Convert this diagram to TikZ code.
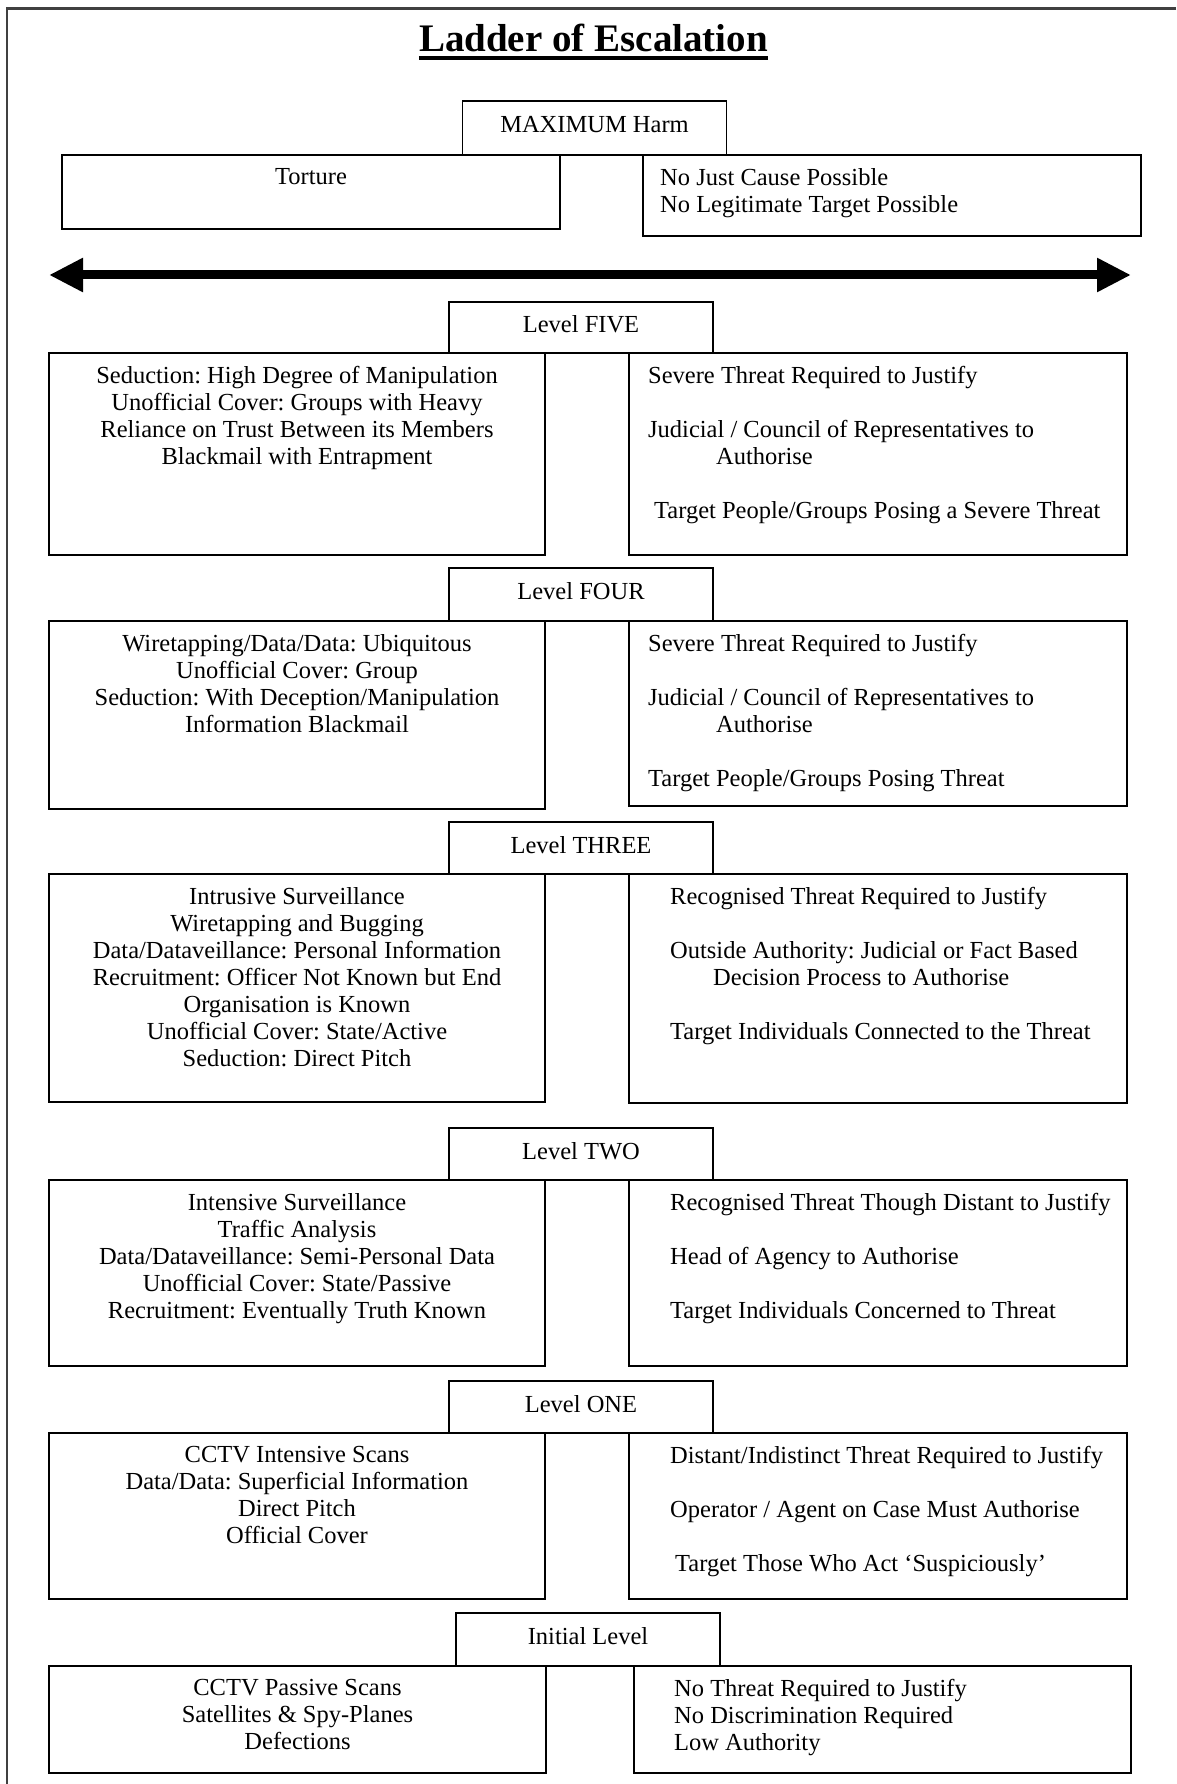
\documentclass[tikz,border=0pt]{standalone}
\usepackage{fontspec}
\setmainfont{Liberation Serif}
\usetikzlibrary{arrows.meta,positioning}
\frenchspacing
\newcommand{\ladderfont}{\fontsize{24.5}{27.1}\selectfont}
\newcommand{\ladderheadfont}{\fontsize{39}{44}\selectfont\bfseries}
\tikzset{
	>={Triangle[length=34pt, width=32pt]},
	frame/.style={draw=black!75, line width=2.2pt},
	tagbox/.style={rectangle, draw, line width=1.6pt, outer sep=0pt, minimum width=264pt, minimum height=52pt, text height=17pt, text depth=7pt, font=\ladderfont},
	leftbox/.style={rectangle, draw, line width=1.6pt, outer sep=0pt, minimum width=496pt, anchor=north west},
	rightbox/.style={leftbox, minimum width=498pt},
	centretext/.style={align=center, inner sep=0pt, font=\ladderfont},
	lefttext/.style={align=left, inner sep=0pt, font=\ladderfont},
	headtext/.style={inner sep=0pt, anchor=base, font=\ladderheadfont}
}
\begin{document}
\begin{tikzpicture}[x=1pt, y=1pt]
	\useasboundingbox (0,0) rectangle (1176,-1784);
	\draw[frame] (1176,-8.5) -| (7,-1784);

	% --- Title ---
	\node[headtext] (title) at (593.5,-51.7) {Ladder of Escalation};
	\draw[line width=3.2pt] ([yshift=-6.3pt]title.base west) -- ([yshift=-6.3pt]title.base east);

	% --- Maximum ---
	\node[tagbox, minimum height=54pt] (max) at (594.5,-128) {MAXIMUM Harm};
	\node[leftbox, minimum width=498pt, minimum height=74pt] (torture) at (62,-155) {};
	\node[centretext, below=13pt of torture.north] (torturetxt) {Torture};
	\node[rightbox, minimum height=81pt] (nocause) at (643,-155) {};
	\node[lefttext, below right=13pt and 17pt of nocause.north west] (nocausetxt) {No Just Cause Possible\\No Legitimate Target Possible};

	\coordinate (arrow_l) at (49,-275);
	\coordinate (arrow_r) at (1131,-275);
	\draw[<->, line width=9pt] (arrow_l) -- (arrow_r);

	% --- Level five ---
	\node[leftbox, minimum height=202pt] (left5) at (49,-353) {};
	\node[rightbox, minimum height=202pt] (right5) at (629,-353) {};
	\node[tagbox, minimum height=51pt] (tag5) at (581,-327.5) {Level FIVE};
	\node[centretext, below=13pt of left5.north] (left5txt) {Seduction: High Degree of Manipulation\\Unofficial Cover: Groups with Heavy\\Reliance on Trust Between its Members\\Blackmail with Entrapment};
	\node[lefttext, below right=13pt and 19pt of right5.north west] (right5txt) {Severe Threat Required to Justify\\[27pt]Judicial / Council of Representatives to\\\hspace*{68pt}Authorise\\[27pt]\hspace*{6pt}Target People/Groups Posing a Severe Threat};

	% --- Level four ---
	\node[leftbox, minimum height=188pt] (left4) at (49,-621) {};
	\node[rightbox, minimum height=185pt] (right4) at (629,-621) {};
	\node[tagbox, minimum height=53pt] (tag4) at (581,-594.5) {Level FOUR};
	\node[centretext, below=13pt of left4.north] (left4txt) {Wiretapping/Data/Data: Ubiquitous\\Unofficial Cover: Group\\Seduction: With Deception/Manipulation\\Information Blackmail};
	\node[lefttext, below right=13pt and 19pt of right4.north west] (right4txt) {Severe Threat Required to Justify\\[27pt]Judicial / Council of Representatives to\\\hspace*{68pt}Authorise\\[27pt]Target People/Groups Posing Threat};

	% --- Level three ---
	\node[leftbox, minimum height=228pt] (left3) at (49,-874) {};
	\node[rightbox, minimum height=229pt] (right3) at (629,-874) {};
	\node[tagbox] (tag3) at (581,-848) {Level THREE};
	\node[centretext, below=13pt of left3.north] (left3txt) {Intrusive Surveillance\\Wiretapping and Bugging\\Data/Dataveillance: Personal Information\\Recruitment: Officer Not Known but End\\Organisation is Known\\Unofficial Cover: State/Active\\Seduction: Direct Pitch};
	\node[lefttext, below right=13pt and 41pt of right3.north west] (right3txt) {Recognised Threat Required to Justify\\[27pt]Outside Authority: Judicial or Fact Based\\\hspace*{43pt}Decision Process to Authorise\\[27pt]Target Individuals Connected to the Threat};

	% --- Level two ---
	\node[leftbox, minimum height=186pt] (left2) at (49,-1180) {};
	\node[rightbox, minimum height=186pt] (right2) at (629,-1180) {};
	\node[tagbox] (tag2) at (581,-1154) {Level TWO};
	\node[centretext, below=13pt of left2.north] (left2txt) {Intensive Surveillance\\Traffic Analysis\\Data/Dataveillance: Semi-Personal Data\\Unofficial Cover: State/Passive\\Recruitment: Eventually Truth Known};
	\node[lefttext, below right=13pt and 41pt of right2.north west] (right2txt) {Recognised Threat Though Distant to Justify\\[27pt]Head of Agency to Authorise\\[27pt]Target Individuals Concerned to Threat};

	% --- Level one ---
	\node[leftbox, minimum height=166pt] (left1) at (49,-1433) {};
	\node[rightbox, minimum height=166pt] (right1) at (629,-1433) {};
	\node[tagbox] (tag1) at (581,-1407) {Level ONE};
	\node[centretext, below=13pt of left1.north] (left1txt) {CCTV Intensive Scans\\Data/Data: Superficial Information\\Direct Pitch\\Official Cover};
	\node[lefttext, below right=13pt and 41pt of right1.north west] (right1txt) {Distant/Indistinct Threat Required to Justify\\[27pt]Operator / Agent on Case Must Authorise\\[27pt]\hspace*{5pt}Target Those Who Act ‘Suspiciously’};

	% --- Initial level ---
	\node[leftbox, minimum width=497pt, minimum height=107pt] (left0) at (49,-1666) {};
	\node[rightbox, minimum width=497pt, minimum height=107pt] (right0) at (634,-1666) {};
	\node[tagbox, minimum height=53pt] (tag0) at (588,-1639.5) {Initial Level};
	\node[centretext, below=13pt of left0.north] (left0txt) {CCTV Passive Scans\\Satellites \& Spy-Planes\\Defections};
	\node[lefttext, below right=13pt and 40pt of right0.north west] (right0txt) {No Threat Required to Justify\\No Discrimination Required\\Low Authority};

\end{tikzpicture}
\end{document}
